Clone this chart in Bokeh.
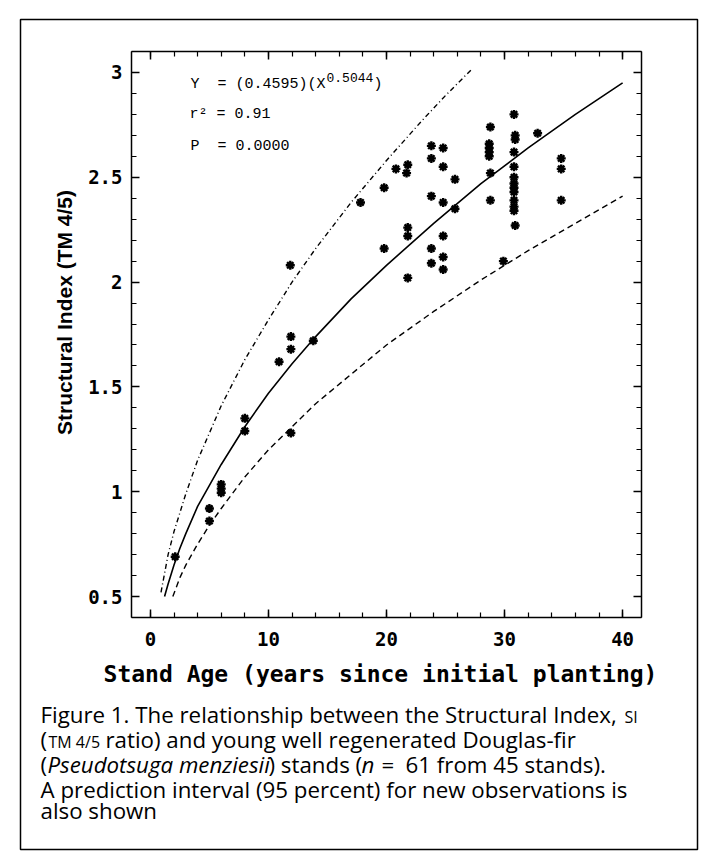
from math import pi
from bokeh.plotting import figure
from bokeh.models import (Range1d, LinearAxis, FixedTicker, Label, BoxAnnotation,
                          CustomJSTickFormatter)
from bokeh.embed import file_html
from bokeh.resources import INLINE

# ---------------- data ----------------
stand_age = [30.8, 28.8, 32.8, 30.9, 30.9, 28.7, 28.7, 28.7, 28.7, 30.8,
             34.8, 34.8, 28.8, 30.8, 30.8, 30.8, 30.8, 30.8, 28.8, 30.8,
             30.8, 30.8, 34.8, 30.9, 29.9,
             23.8, 24.8, 23.8, 24.8, 20.8, 21.8, 21.7, 25.8, 19.8, 23.8,
             24.8, 25.8, 21.8, 21.8, 24.8, 19.8, 23.8, 24.8, 23.8, 24.8,
             21.8, 17.8,
             11.85, 11.9, 11.9, 10.9, 13.8, 8.0, 8.0, 11.9,
             6.0, 6.0, 6.0, 5.0, 5.0, 2.1]
structural_index = [2.80, 2.74, 2.71, 2.70, 2.68, 2.66, 2.64, 2.62, 2.60, 2.62,
                    2.59, 2.54, 2.52, 2.55, 2.50, 2.47, 2.45, 2.43, 2.39, 2.39,
                    2.36, 2.34, 2.39, 2.27, 2.10,
                    2.65, 2.64, 2.59, 2.55, 2.54, 2.56, 2.52, 2.49, 2.45, 2.41,
                    2.38, 2.35, 2.26, 2.22, 2.22, 2.16, 2.16, 2.12, 2.09, 2.06,
                    2.02, 2.38,
                    2.08, 1.74, 1.68, 1.62, 1.72, 1.35, 1.29, 1.28,
                    1.035, 1.015, 0.995, 0.92, 0.86, 0.69]

fit_age = [1.2, 1.5, 2, 2.5, 3, 4, 5, 6, 8, 10, 12, 14, 17, 20, 24, 28, 32, 36, 40]
fit_si = [0.50, 0.56, 0.65, 0.73, 0.80, 0.93, 1.03, 1.13, 1.31, 1.47, 1.61, 1.74,
          1.92, 2.08, 2.28, 2.47, 2.64, 2.80, 2.95]

upper_age = [0.9, 1.5, 2, 3, 4, 5, 6, 8, 10, 12, 14, 17, 20, 23, 25, 27.3]
upper_si = [0.52, 0.70, 0.81, 0.99, 1.15, 1.28, 1.41, 1.63, 1.82, 2.00, 2.16, 2.38,
            2.58, 2.77, 2.89, 3.02]

lower_age = [1.9, 2.5, 3, 4, 5, 6, 8, 10, 12, 14, 17, 20, 24, 28, 32, 36, 40]
lower_si = [0.50, 0.59, 0.65, 0.75, 0.84, 0.92, 1.07, 1.20, 1.31, 1.42, 1.56, 1.70,
            1.86, 2.01, 2.15, 2.28, 2.41]

x_ticks = [0, 10, 20, 30, 40]
y_ticks = [0.5, 1, 1.5, 2, 2.5, 3]

NB = "\u00a0"
eq_text = "Y" + NB * 2 + "=" + NB + "(0.4595)(X"
eq_exp = "0.5044"
r2_text = "r\u00b2" + NB + "=" + NB + "0.91"
p_text = "P" + NB * 2 + "=" + NB + "0.0000"
x_title = "Stand Age (years since initial planting)"
y_title = "Structural Index (TM 4/5)"

# ---------------- layout (page pixel geometry) ----------------
X0, X1 = -1.6, 41.6          # plot area data range
Y0, Y1 = 0.4, 3.1
PL, PT, PW, PH = 131, 51, 510, 566   # plot area on the page
W, H = 708, 856


def dx(px):  # page x pixel -> data x
    return X0 + (px - PL) / PW * (X1 - X0)


def dy(py):  # page y pixel -> data y
    return Y1 - (py - PT) / PH * (Y1 - Y0)


p = figure(width=W, height=H, x_range=Range1d(dx(0), dx(W)),
           y_range=Range1d(dy(H), dy(0)),
           x_axis_type=None, y_axis_type=None,
           output_backend="svg", toolbar_location=None,
           min_border_left=0, min_border_right=0,
           min_border_top=0, min_border_bottom=0)
p.outline_line_color = None
p.background_fill_color = "white"
p.border_fill_color = "white"

x_minor = [v * 2 for v in range(0, 21)]
y_minor = [round(v * 0.1, 1) for v in range(4, 32)]

mono = "DejaVu Sans Mono"

bottom_ax = LinearAxis(fixed_location=Y0, bounds=(X0, X1))
top_ax = LinearAxis(fixed_location=Y1, bounds=(X0, X1))
left_ax = LinearAxis(fixed_location=X0, bounds=(Y0, Y1))
right_ax = LinearAxis(fixed_location=X1, bounds=(Y0, Y1))
p.add_layout(bottom_ax, "below")
p.add_layout(top_ax, "above")
p.add_layout(left_ax, "left")
p.add_layout(right_ax, "right")

for ax in [bottom_ax, top_ax]:
    ax.ticker = FixedTicker(ticks=x_ticks, minor_ticks=x_minor)
for ax in [left_ax, right_ax]:
    ax.ticker = FixedTicker(ticks=y_ticks, minor_ticks=y_minor)
    ax.formatter = CustomJSTickFormatter(code="return tick.toString()")

for ax in [bottom_ax, top_ax, left_ax, right_ax]:
    ax.major_tick_in = 8
    ax.major_tick_out = 0
    ax.minor_tick_in = 5
    ax.minor_tick_out = 0
    ax.axis_line_color = "black"
    ax.axis_line_width = 1.5
    ax.major_tick_line_width = 1.5
    ax.minor_tick_line_width = 1.2
    ax.major_tick_line_color = "black"
    ax.minor_tick_line_color = "black"
    ax.major_label_text_font = mono
    ax.major_label_text_font_style = "bold"
    ax.major_label_text_font_size = "19px"
    ax.major_label_text_color = "black"

bottom_ax.major_label_standoff = 14
left_ax.major_label_standoff = 9
top_ax.major_label_text_color = None
right_ax.major_label_text_color = None

# ---------------- curves and points ----------------
p.line(upper_age, upper_si, line_color="black", line_width=1.4, line_dash="5 3 1 3")
p.line(lower_age, lower_si, line_color="black", line_width=1.4, line_dash="6 4")
p.line(fit_age, fit_si, line_color="black", line_width=1.6)
p.scatter(stand_age, structural_index, marker="asterisk", size=9,
          line_width=2.4, line_color="black")

# ---------------- texts ----------------
def lab(text, px, py, font, size, style="normal", align="left",
        baseline="middle", angle=0.0):
    p.add_layout(Label(x=dx(px), y=dy(py), text=text, text_font=font,
                       text_font_size=size, text_font_style=style,
                       text_align=align, text_baseline=baseline, angle=angle,
                       text_color="black"))


cour = "Liberation Mono"
lab(eq_text, 190, 84, cour, "15px", baseline="alphabetic")
lab(eq_exp, 326, 77, cour, "13px", baseline="alphabetic")
lab(")", 373, 84, cour, "15px", baseline="alphabetic")
lab(r2_text, 189, 114, cour, "15px", baseline="alphabetic")
lab(p_text, 190, 146, cour, "15px", baseline="alphabetic")

lab(x_title, 380, 673, mono, "23px", style="bold", align="center")
lab(y_title, 64, 312, "Liberation Sans", "21px", style="bold", align="center",
    angle=pi / 2)

cap = "Open Sans"
cs = "22.3px"
sc = "16px"
lab("Figure 1. The relationship between the Structural Index,", 40, 714, cap, cs)
lab("SI", 624, 716, cap, sc)
lab("(", 40, 739, cap, cs)
lab("TM 4/5", 48, 741, cap, sc)
lab("ratio) and young well regenerated Douglas-fir", 105, 739, cap, cs)
lab("(", 40, 764, cap, cs)
lab("Pseudotsuga menziesii", 47, 764, cap, cs, style="italic")
lab(") stands (", 268, 764, cap, cs)
lab("n", 361, 764, cap, cs, style="italic")
lab("=", 381, 764, cap, cs)
lab("61 from 45 stands).", 405, 764, cap, cs)
lab("A prediction interval (95 percent) for new observations is", 40, 789, cap, cs)
lab("also shown", 40, 810, cap, cs)

p.add_layout(BoxAnnotation(left=dx(20), right=dx(697), top=dy(19), bottom=dy(849),
                           fill_alpha=0, fill_color=None, line_color="black",
                           line_alpha=1.0, line_width=1.5))

open("out.html", "w").write(file_html(p, INLINE))
